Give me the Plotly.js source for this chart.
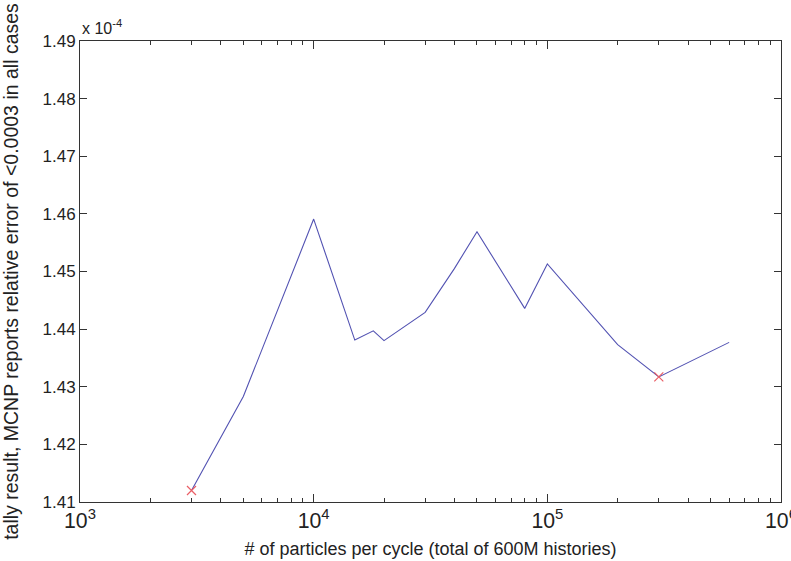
<!DOCTYPE html>
<html>
<head>
<meta charset="utf-8">
<script src="https://cdn.plot.ly/plotly-3.0.1.min.js"></script>
<style>
  html, body { margin: 0; padding: 0; background: #ffffff; }
  #chart { width: 791px; height: 561px; }
</style>
</head>
<body>
<div id="chart"></div>
<script>
// particles per cycle
var particles = [3000, 5000, 10000, 15000, 18000, 20000, 30000, 40000, 50000, 80000, 100000, 200000, 300000, 600000];
// tally result (x 10^-4)
var tally = [1.412, 1.4283, 1.4591, 1.4381, 1.4397, 1.4380, 1.4429, 1.4505, 1.4569, 1.4436, 1.4513, 1.4373, 1.4317, 1.4377];
// highlighted points
var markedParticles = [3000, 300000];
var markedTally = [1.412, 1.4317];

var xTitle = '# of particles per cycle (total of 600M histories)';
var yTitle = 'tally result, MCNP reports relative error of <0.0003 in all cases';
var scaleLabel = 'x 10<sup>-4</sup>';

var axisColor = '#333333';
var fontFamily = '"Liberation Sans", Arial, Helvetica, sans-serif';

var traces = [
  {
    x: particles, y: tally, type: 'scatter', mode: 'lines',
    line: { color: '#5252b2', width: 1.1 },
    hoverinfo: 'x+y', showlegend: false
  },
  {
    x: markedParticles, y: markedTally, type: 'scatter', mode: 'markers',
    marker: { symbol: 'x-thin-open', size: 9, color: '#ea5e66', line: { color: '#ea5e66', width: 1.2 } },
    showlegend: false
  }
];

var layout = {
  width: 791, height: 561,
  margin: { l: 80, r: 9.5, t: 41, b: 59 },
  paper_bgcolor: '#ffffff', plot_bgcolor: '#ffffff',
  font: { family: fontFamily, color: '#222222', size: 16 },
  xaxis: {
    type: 'log', range: [3, 6], dtick: 1, tick0: 0,
    exponentformat: 'power',
    ticklabeloverflow: 'allow',
    ticks: 'inside', ticklen: 8, tickwidth: 1, tickcolor: axisColor,
    mirror: 'ticks', showline: true, linecolor: axisColor, linewidth: 1,
    showgrid: false, zeroline: false,
    tickfont: { size: 17, color: '#222222' },
    minor: { ticks: 'inside', ticklen: 4, tickcolor: axisColor, dtick: 'D1', showgrid: false },
    title: { text: xTitle, font: { size: 18, color: '#222222' }, standoff: 10 }
  },
  yaxis: {
    range: [1.41, 1.49], dtick: 0.01, tick0: 1.41, tickformat: '.2f',
    ticks: 'inside', ticklen: 7, tickwidth: 1, tickcolor: axisColor,
    mirror: 'ticks', showline: true, linecolor: axisColor, linewidth: 1,
    showgrid: false, zeroline: false,
    tickfont: { size: 17, color: '#222222' },
    title: { text: yTitle, font: { size: 19.5, color: '#222222' }, standoff: 19 }
  },
  annotations: [
    {
      text: scaleLabel, xref: 'paper', yref: 'paper', x: 0, y: 1,
      xanchor: 'left', yanchor: 'bottom', yshift: 2, showarrow: false,
      font: { size: 16, color: '#222222' }
    }
  ]
};

Plotly.newPlot('chart', traces, layout, { displayModeBar: false, staticPlot: true });
</script>
</body>
</html>
